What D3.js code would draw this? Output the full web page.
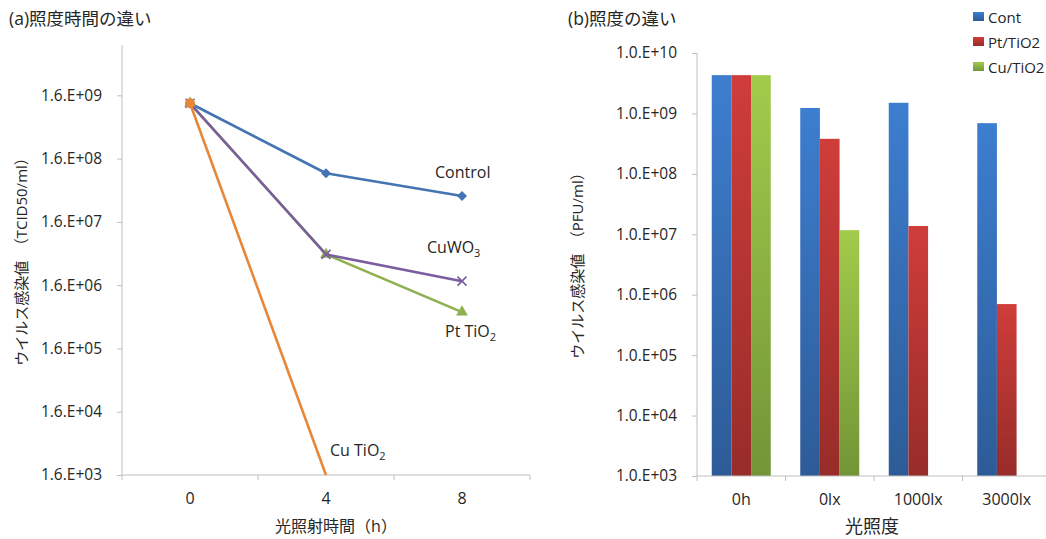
<!DOCTYPE html>
<html><head><meta charset="utf-8">
<script src="https://cdn.jsdelivr.net/npm/d3@7"></script>
<style>
body{margin:0;background:#fff;}
svg text{font-family:"Open Sans","Noto Sans CJK JP",sans-serif;fill:#262626;}
</style></head>
<body><svg id="c" width="1046" height="539"></svg>
<script>
// ---------- data: chart (a) ----------
const hours = ["0", "4", "8"];
const seriesA = ["Control", "CuWO3", "Pt TiO2", "Cu TiO2"];
const controlVals = [1.2e9, 9.4e7, 4.1e7];
const cuwo3Vals   = [1.2e9, 4.9e6, 1.85e6];
const pttio2Vals  = [1.2e9, 4.9e6, 6.0e5];
const cutio2Vals  = [1.2e9, 1.6e3];
const yTicksA = [1.6e3, 1.6e4, 1.6e5, 1.6e6, 1.6e7, 1.6e8, 1.6e9];
const yTickLabelsA = ["1.6.E+03","1.6.E+04","1.6.E+05","1.6.E+06","1.6.E+07","1.6.E+08","1.6.E+09"];
// ---------- data: chart (b) ----------
const lux = ["0h", "0lx", "1000lx", "3000lx"];
const seriesB = ["Cont", "Pt/TiO2", "Cu/TiO2"];
const contVals = [4.3e9, 1.23e9, 1.5e9, 6.9e8];
const ptVals   = [4.3e9, 3.8e8, 1.37e7, 7.0e5];
const cuVals   = [4.3e9, 1.17e7, null, null];
const yTicksB = [1e3, 1e4, 1e5, 1e6, 1e7, 1e8, 1e9, 1e10];
const yTickLabelsB = ["1.0.E+03","1.0.E+04","1.0.E+05","1.0.E+06","1.0.E+07","1.0.E+08","1.0.E+09","1.0.E+10"];

const svg = d3.select("#c");
svg.append("rect").attr("width",1046).attr("height",539).attr("fill","#fff");
const axisCol = "#BFBFBF";

// ================= Chart (a) =================
const A = {l:122, r:530, t:45, b:475};
const xA = d3.scaleBand().domain(hours).range([A.l, A.r]);
const yA = d3.scaleLog().domain([1.6e3, 1e10]).range([A.b, A.t]);

const gA = svg.append("g");
gA.append("text").attr("x",9).attr("y",25).attr("font-size",17.5).text("(a)照度時間の違い");

// y axis
const yAxA = d3.axisLeft(yA).tickValues(yTicksA).tickSize(5).tickPadding(15)
  .tickFormat((d,i)=>yTickLabelsA[i]);
const gya = gA.append("g").attr("transform",`translate(${A.l},0)`).call(yAxA);
gya.select(".domain").remove();
gA.append("line").attr("x1",A.l).attr("x2",A.l).attr("y1",A.t).attr("y2",A.b).attr("stroke",axisCol);
gya.selectAll(".tick line").attr("stroke",axisCol);
gya.selectAll(".tick text").attr("font-size",15.5).attr("fill","#333").style("font-family",'"Open Sans",sans-serif');

// x axis
gA.append("line").attr("x1",A.l).attr("x2",A.r).attr("y1",A.b).attr("y2",A.b).attr("stroke",axisCol);
const bA = [A.l, ...hours.map(h=>xA(h)+xA.bandwidth())];
gA.selectAll(".xt").data(bA).join("line").attr("x1",d=>d).attr("x2",d=>d)
  .attr("y1",A.b).attr("y2",A.b+5).attr("stroke",axisCol);
gA.selectAll(".xl").data(hours).join("text").attr("x",d=>xA(d)+xA.bandwidth()/2).attr("y",504)
  .attr("text-anchor","middle").attr("font-size",16).attr("fill","#333").text(d=>d);

gA.append("text").attr("x",336).attr("y",532).attr("text-anchor","middle").attr("font-size",16).text("光照射時間（h）");
gA.append("text").attr("transform","translate(27,258) rotate(-90)").attr("text-anchor","middle")
  .attr("font-size",15).text("ウイルス感染値　（TCID50/ml）");

svg.append("clipPath").attr("id","clipA").append("rect").attr("x",A.l).attr("y",A.t).attr("width",A.r-A.l).attr("height",A.b-A.t+1);

const cx = h => xA(h)+xA.bandwidth()/2;
const line = d3.line().x(d=>cx(d.h)).y(d=>yA(d.v));
const colors = {Control:"#4474B2", CuWO3:"#7B5E9F", "Pt TiO2":"#8EB04E", "Cu TiO2":"#E6873A"};
const data = {Control:controlVals, CuWO3:cuwo3Vals, "Pt TiO2":pttio2Vals, "Cu TiO2":cutio2Vals};
const order = ["Control","Pt TiO2","CuWO3","Cu TiO2"];
const plotA = gA.append("g").attr("clip-path","url(#clipA)");
order.forEach(s=>{
  const pts = data[s].map((v,i)=>({h:hours[i], v}));
  plotA.append("path").datum(pts).attr("d",line).attr("fill","none")
    .attr("stroke",colors[s]).attr("stroke-width",2.6).attr("stroke-linejoin","round");
  const mk = pts.filter(p=>p.v>yA.domain()[0]);
  const g = plotA.append("g");
  mk.forEach(p=>{
    const x=cx(p.h), y=yA(p.v);
    if(s==="Control"){
      g.append("path").attr("d",d3.symbol(d3.symbolDiamond2,64)()).attr("transform",`translate(${x},${y})`).attr("fill",colors[s]);
    } else if(s==="CuWO3"){
      g.append("path").attr("d",`M${x-4.5},${y-4.5}L${x+4.5},${y+4.5}M${x-4.5},${y+4.5}L${x+4.5},${y-4.5}`)
        .attr("stroke",colors[s]).attr("stroke-width",1.6);
    } else if(s==="Pt TiO2"){
      g.append("path").attr("d",d3.symbol(d3.symbolTriangle,60)()).attr("transform",`translate(${x},${y})`).attr("fill",colors[s]);
    } else {
      g.append("circle").attr("cx",x).attr("cy",y).attr("r",5).attr("fill",colors[s]);
    }
  });
});
// series labels
function lab(x,y,base,sub){
  const t=gA.append("text").attr("x",x).attr("y",y).attr("font-size",16).attr("fill","#262626");
  t.append("tspan").text(base);
  if(sub) t.append("tspan").attr("dy",4).attr("font-size",11).text(sub);
}
lab(435,178,"Control");
lab(427,253,"CuWO","3");
lab(445,337,"Pt TiO","2");
lab(330,456,"Cu TiO","2");

// ================= Chart (b) =================
const B = {l:697, r:1051, t:53, b:476};
const xB = d3.scaleBand().domain(lux).range([B.l, B.r]);
const bw = xB.bandwidth()/4.5;
const x1 = d3.scaleBand().domain(seriesB).range([xB.bandwidth()/2-1.5*bw, xB.bandwidth()/2+1.5*bw]);
const yB = d3.scaleLog().domain([1e3, 1e10]).range([B.b, B.t]);
const gB = svg.append("g");
gB.append("text").attr("x",568).attr("y",25).attr("font-size",17.5).text("(b)照度の違い");

const defs = svg.append("defs");
const grads = {"Cont":["#3D7ED0","#2D5B97"], "Pt/TiO2":["#CF3D3A","#972C29"], "Cu/TiO2":["#A2CB4B","#739537"]};
seriesB.forEach((s,i)=>{
  const g = defs.append("linearGradient").attr("id","gb"+i).attr("x1",0).attr("x2",0).attr("y1",0).attr("y2",1);
  g.append("stop").attr("offset","0%").attr("stop-color",grads[s][0]);
  g.append("stop").attr("offset","100%").attr("stop-color",grads[s][1]);
});

const yAxB = d3.axisLeft(yB).tickValues(yTicksB).tickSize(5).tickPadding(15).tickFormat((d,i)=>yTickLabelsB[i]);
const gyb = gB.append("g").attr("transform",`translate(${B.l},0)`).call(yAxB);
gyb.select(".domain").remove();
gB.append("line").attr("x1",B.l).attr("x2",B.l).attr("y1",B.t).attr("y2",B.b).attr("stroke",axisCol);
gyb.selectAll(".tick line").attr("stroke",axisCol);
gyb.selectAll(".tick text").attr("font-size",15.5).attr("fill","#333").style("font-family",'"Open Sans",sans-serif');

const valsB = {"Cont":contVals, "Pt/TiO2":ptVals, "Cu/TiO2":cuVals};
seriesB.forEach((s,si)=>{
  lux.forEach((c,ci)=>{
    const v = valsB[s][ci];
    if(v==null) return;
    gB.append("rect").attr("x",xB(c)+x1(s)).attr("width",x1.bandwidth())
      .attr("y",yB(v)).attr("height",B.b-yB(v)).attr("fill",`url(#gb${si})`);
  });
});
gB.append("line").attr("x1",B.l).attr("x2",B.r).attr("y1",B.b).attr("y2",B.b).attr("stroke",axisCol);
const bB = [B.l, ...lux.map(c=>xB(c)+xB.bandwidth())];
gB.selectAll(".xt").data(bB).join("line").attr("x1",d=>d).attr("x2",d=>d)
  .attr("y1",B.b).attr("y2",B.b+5).attr("stroke",axisCol);
gB.selectAll(".xl").data(lux).join("text").attr("x",d=>xB(d)+xB.bandwidth()/2).attr("y",505)
  .attr("text-anchor","middle").attr("font-size",16).attr("fill","#333").text(d=>d);
gB.append("text").attr("x",872).attr("y",533).attr("text-anchor","middle").attr("font-size",18).text("光照度");
gB.append("text").attr("transform","translate(583,262) rotate(-90)").attr("text-anchor","middle")
  .attr("font-size",15).text("ウイルス感染値　（PFU/ml）");

// legend
seriesB.forEach((s,i)=>{
  const y = 17 + i*25;
  gB.append("rect").attr("x",973).attr("y",y-5).attr("width",11).attr("height",9).attr("fill",`url(#gb${i})`);
  gB.append("text").attr("x",988).attr("y",y+6).attr("font-size",15).attr("fill","#262626").text(s);
});
</script></body></html>
